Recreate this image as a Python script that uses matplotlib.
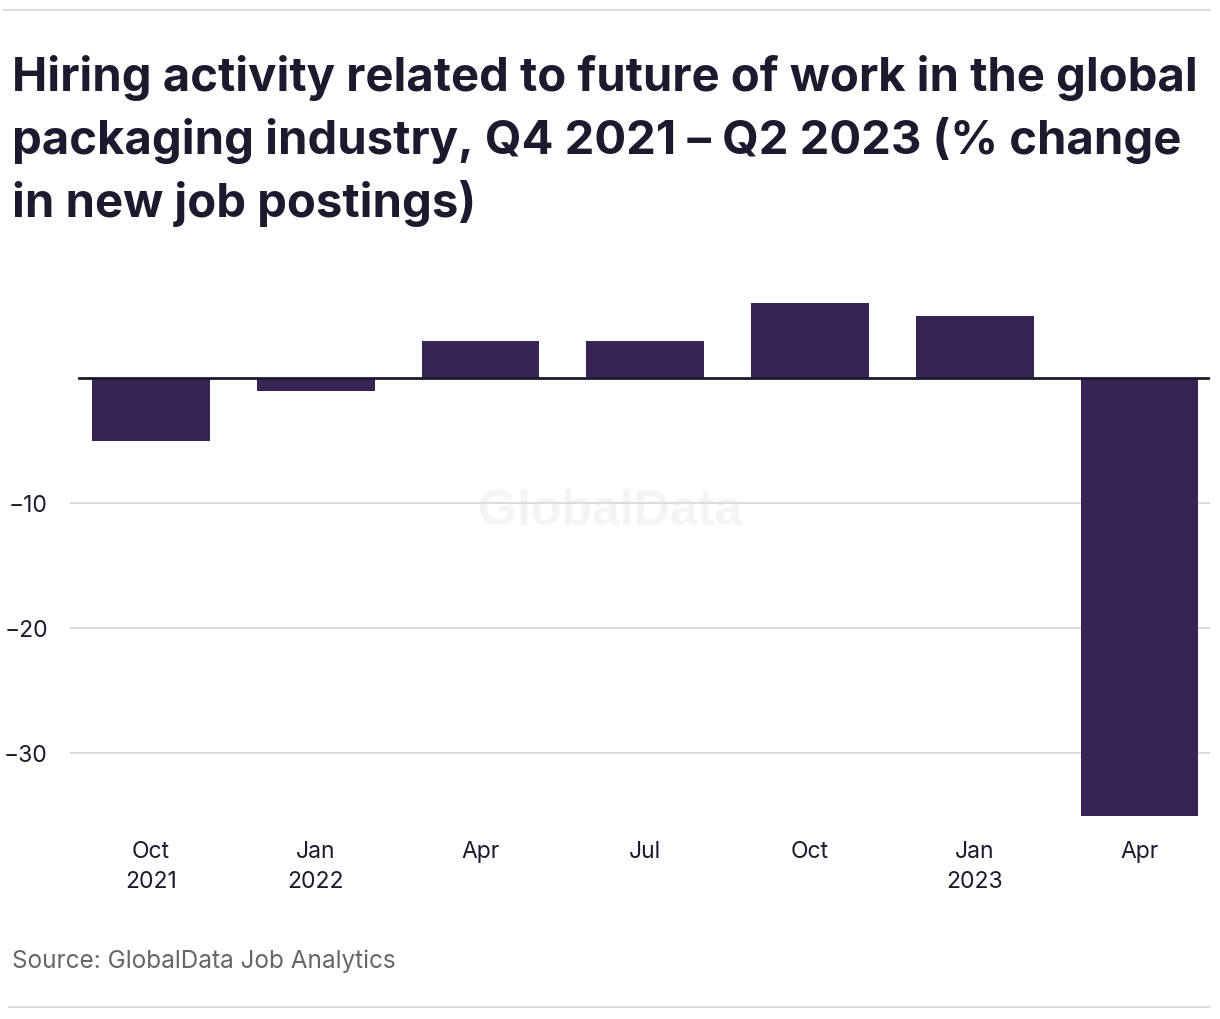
import matplotlib
matplotlib.use("Agg")
import matplotlib.pyplot as plt
from matplotlib.lines import Line2D

# quarterly % change in new job postings
quarters = ["Oct\n2021", "Jan\n2022", "Apr", "Jul", "Oct", "Jan\n2023", "Apr"]
values = [-5.0, -1.0, 3.0, 3.0, 6.0, 5.0, -35.0]
yticks = [-10, -20, -30]

bar_color = "#372453"
text_color = "#1b1a2e"
grid_color = "#dcdcdc"

plt.rcParams["font.family"] = ["Inter", "DejaVu Sans"]

W, H = 1220, 1020
fig = plt.figure(figsize=(W / 100, H / 100), dpi=100)

# axes in pixel coords: left 70, right 1210, top 290, bottom 817
ax_l, ax_r, ax_t, ax_b = 70, 1210, 290, 817
ax = fig.add_axes([ax_l / W, 1 - ax_b / H, (ax_r - ax_l) / W, (ax_b - ax_t) / H])

x = range(len(values))
ax.bar(x, values, width=0.716, color=bar_color, zorder=3)

# first bar centre at px 151, spacing ~164.75 px
step = 164.75
ax.set_xlim((ax_l - 151) / step, (ax_r - 151) / step)
ax.set_ylim(-35.04, (379 - ax_t) / 12.5)

ax.set_yticks(yticks)
ax.set_yticklabels(["\u221210", "\u221220", "\u221230"])
ax.yaxis.grid(True, color=grid_color, linewidth=1.5, zorder=1)
ax.set_xticks(list(x))
ax.set_xticklabels(quarters, linespacing=1.5)
ax.tick_params(axis="both", length=0, labelsize=16.5, colors=text_color)
ax.tick_params(axis="x", pad=17)
ax.tick_params(axis="y", pad=16)
for s in ax.spines.values():
    s.set_visible(False)

# zero baseline
ax.axhline(0, xmin=(79 - ax_l) / (ax_r - ax_l), xmax=1, color=text_color,
           linewidth=2, zorder=4)

# watermark
ax.text((610 - ax_l) / (ax_r - ax_l), 1 - (512 - ax_t) / (ax_b - ax_t),
        "GlobalData", transform=ax.transAxes, ha="center", va="center",
        fontsize=36, fontweight="bold", family="Liberation Sans",
        color="#f4f4f4", zorder=0)

fig.text(12 / W, 1 - 55 / H,
         "Hiring activity related to future of work in the global\n"
         "packaging industry, Q4 2021 \u2013 Q2 2023 (% change\n"
         "in new job postings)",
         ha="left", va="top", fontsize=34, fontweight="bold",
         color=text_color, linespacing=1.43)
fig.text(12 / W, 1 - 961 / H, "Source: GlobalData Job Analytics",
         ha="left", va="center", fontsize=17.5, color="#666666")

fig.add_artist(Line2D([4 / W, 1210 / W], [1 - 11 / H, 1 - 11 / H],
                      color=grid_color, linewidth=1.5))
fig.add_artist(Line2D([9 / W, 1210 / W], [1 - 1008 / H, 1 - 1008 / H],
                      color=grid_color, linewidth=1.5))

fig.savefig("out.png", dpi=100)
plt.close(fig)
